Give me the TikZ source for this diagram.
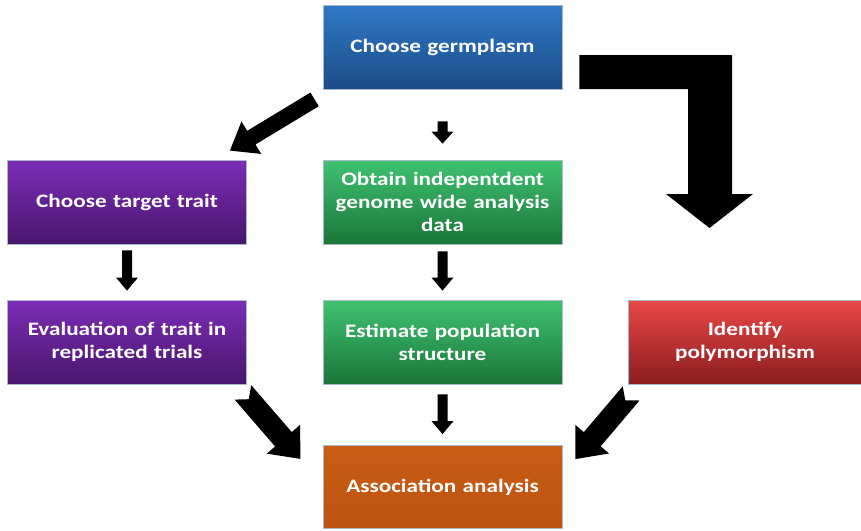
\documentclass[tikz,border=0pt]{standalone}
\usepackage{fontspec}
\setmainfont{Carlito}[FakeStretch=1.22, WordSpace=0.7]
\usetikzlibrary{calc}

\definecolor{edge}{HTML}{A9B9CC}
\definecolor{blueT}{HTML}{3079C6}
\definecolor{blueB}{HTML}{1B4C88}
\definecolor{purT}{HTML}{7C2DB6}
\definecolor{purB}{HTML}{48166C}
\definecolor{grnT}{HTML}{40C272}
\definecolor{grnB}{HTML}{1A7638}
\definecolor{redT}{HTML}{EA4848}
\definecolor{redB}{HTML}{8A1C1E}
\definecolor{orgT}{HTML}{C95D16}
\definecolor{orgB}{HTML}{BC5310}

\newdimen\bax \newdimen\bay \newdimen\bbx \newdimen\bby
% filled block arrow: #1 tail, #2 tip, #3 shaft width, #4 head width,
% #5 head length, #6 depth of the notch cut into the tail
\newcommand\blockarrow[6]{%
  \pgfextractx{\bax}{\pgfpointanchor{#1}{center}}%
  \pgfextracty{\bay}{\pgfpointanchor{#1}{center}}%
  \pgfextractx{\bbx}{\pgfpointanchor{#2}{center}}%
  \pgfextracty{\bby}{\pgfpointanchor{#2}{center}}%
  \pgfmathsetmacro\baang{atan2(\bby-\bay,\bbx-\bax)}%
  \pgfmathsetmacro\balen{veclen(\bbx-\bax,\bby-\bay)}%
  \begin{scope}[shift={(#1)}, rotate=\baang, x=1pt, y=1pt]
    \fill[black] (0,{-#3/2}) -- ({\balen-#5},{-#3/2}) -- ({\balen-#5},{-#4/2})
      -- (\balen,0) -- ({\balen-#5},{#4/2}) -- ({\balen-#5},{#3/2})
      -- (0,{#3/2}) -- (#6,0) -- cycle;
  \end{scope}}

\tikzset{
  box/.style={rectangle, draw=edge, line width=0.8pt,
    minimum width=239pt, minimum height=84pt, inner sep=0pt,
    text width=234pt, align=center, text=white,
    font=\fontsize{19}{23}\bfseries\selectfont},
}

\begin{document}
\begin{tikzpicture}[x=1pt,y=-1pt]
\useasboundingbox (0,0) rectangle (861,530);

% process boxes
\node[box, top color=blueT, bottom color=blueB] (germ) at (442.5,47) {Choose germplasm};
\node[box, top color=purT, bottom color=purB] (trait) at (127,202) {Choose target trait};
\node[box, top color=grnT, bottom color=grnB] (obtain) at (442.5,202) {Obtain indepentdent\\genome wide analysis\\data};
\node[box, top color=purT, bottom color=purB] (eval) at (127,342) {Evaluation of trait in\\replicated trials};
\node[box, top color=grnT, bottom color=grnB] (est) at (442.5,342) {Estimate population\\structure};
\node[box, top color=redT, bottom color=redB, minimum width=233pt, text width=228pt] (poly) at (745,342) {Identify\\polymorphism};
\node[box, top color=orgT, bottom color=orgB, minimum height=83pt] (assoc) at (442.5,487) {Association analysis};

% arrow end points, placed in the gaps between the boxes
\coordinate (g-o1) at ($(germ.south)+(0,32)$);
\coordinate (g-o2) at ($(obtain.north)+(0,-16)$);
\coordinate (o-e1) at ($(obtain.south)+(0,7)$);
\coordinate (o-e2) at ($(est.north)+(0,-9)$);
\coordinate (e-a1) at ($(est.south)+(0,10)$);
\coordinate (e-a2) at ($(assoc.north)+(0,-11)$);
\coordinate (t-v1) at ($(trait.south)+(0,6)$);
\coordinate (t-v2) at ($(eval.north)+(0,-9)$);
\coordinate (g-t1) at ($(germ.south west)+(-8,10)$);
\coordinate (g-t2) at ($(trait.north east)+(-17,-9)$);
\coordinate (v-a1) at ($(eval.south east)+(-4,8)$);
\coordinate (v-a2) at ($(assoc.north west)+(-22,14)$);
\coordinate (p-a1) at ($(poly.south west)+(3,9)$);
\coordinate (p-a2) at ($(assoc.north east)+(13,14)$);

\blockarrow{g-o1}{g-o2}{10}{22}{12}{0}
\blockarrow{o-e1}{o-e2}{10}{22}{13}{0}
\blockarrow{e-a1}{e-a2}{10}{22}{13}{0}
\blockarrow{t-v1}{t-v2}{10}{22}{13}{0}
\blockarrow{g-t1}{g-t2}{16}{38}{25}{0}
\blockarrow{v-a1}{v-a2}{22}{44}{26}{9}
\blockarrow{p-a1}{p-a2}{22}{44}{26}{9}

% bent arrow from the top box down towards the polymorphism branch
\fill[black] ($(germ.east)+(17,8)$) -- (732,55) -- (732,194) -- (753,194)
  -- (709.5,228) -- (666,194) -- (688,194) -- (688,89)
  -- ($(germ.east)+(17,42)$) -- cycle;
\end{tikzpicture}
\end{document}
